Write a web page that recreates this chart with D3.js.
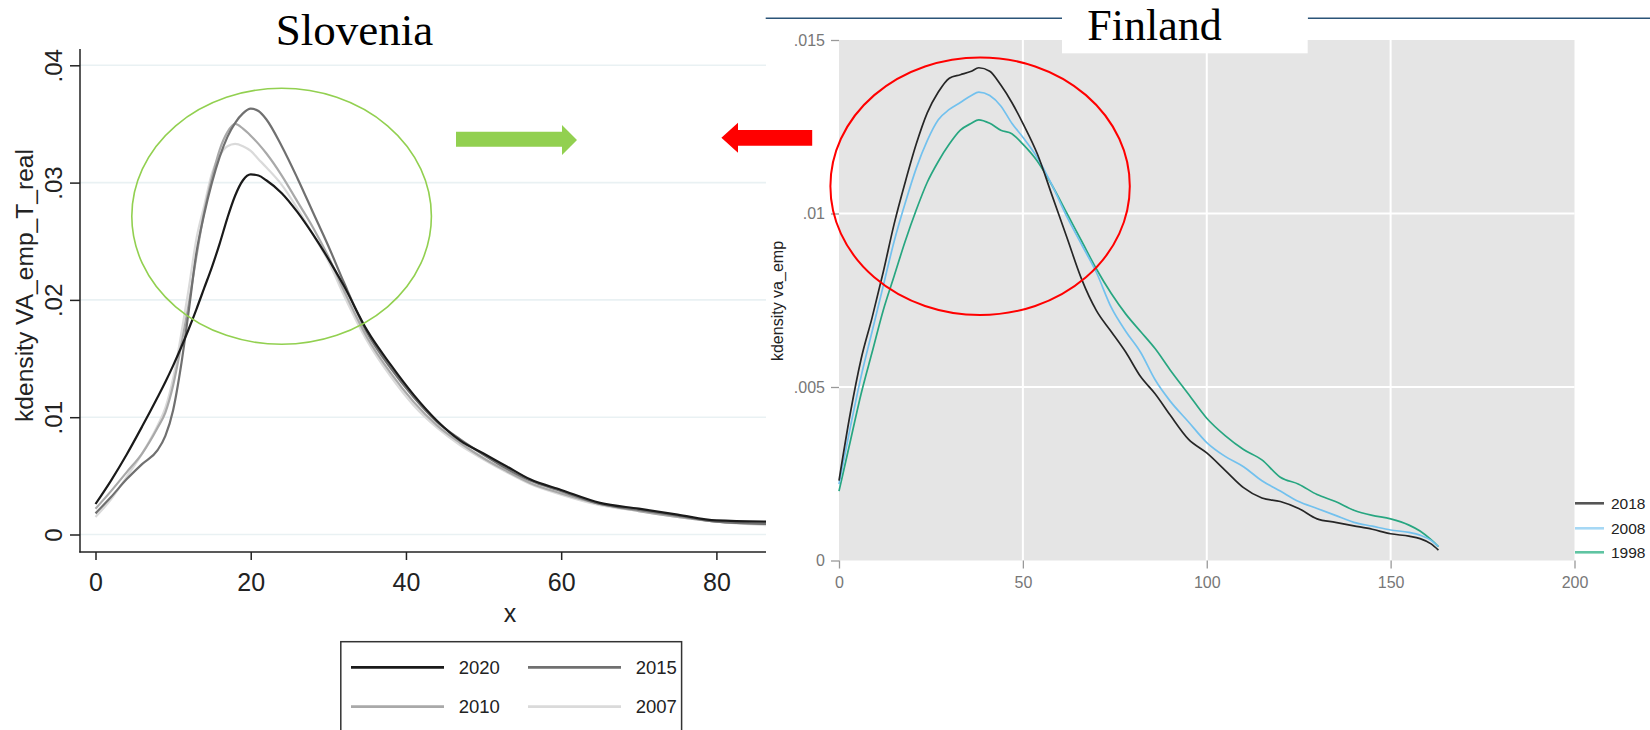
<!DOCTYPE html>
<html><head><meta charset="utf-8">
<script src="https://cdn.jsdelivr.net/npm/d3@7/dist/d3.min.js"></script>
<style>
html,body{margin:0;padding:0;background:#fff;}
svg{display:block;}
text{font-family:"Liberation Sans",Arial,sans-serif;}
</style></head>
<body>
<svg id="c" width="1650" height="730"></svg>
<script>
// ---------- Slovenia data ----------
const sloX = [0,2,4,6,8,9,10,11,12,13,14,15,16,17,18,19,20,21,22,24,26,28,30,32,35,38,41,44,47,50,53,56,60,65,70,75,80,86.5];
const slo2020 = [.0026,.0046,.0068,.0092,.0117,.0130,.0144,.0159,.0175,.0192,.0210,.0228,.0248,.0270,.0289,.0302,.0307,.0306,.0302,.0291,.0275,.0256,.0235,.0212,.0174,.0145,.0119,.0097,.0080,.0069,.0058,.0047,.0038,.0027,.0022,.0017,.0012,.0011];
const slo2015 = [.0018,.0032,.0047,.0060,.0072,.0084,.0106,.0143,.0190,.0240,.0273,.0300,.0322,.0339,.0351,.0359,.0363,.0361,.0354,.0331,.0304,.0275,.0246,.0215,.0172,.0142,.0117,.0096,.0081,.0068,.0056,.0046,.0037,.0026,.0021,.0016,.0011,.0009];
const slo2010 = [.0022,.0037,.0053,.0069,.0091,.0104,.0127,.0160,.0196,.0237,.0275,.0304,.0328,.0343,.0350,.0346,.0340,.0333,.0325,.0306,.0284,.0262,.0237,.0208,.0168,.0138,.0113,.0093,.0078,.0065,.0054,.0044,.0035,.0026,.0020,.0015,.0011,.0009];
const slo2007 = [.0015,.0030,.0049,.0069,.0093,.0108,.0133,.0169,.0209,.0252,.0280,.0308,.0323,.0331,.0333,.0331,.0327,.0320,.0313,.0298,.0278,.0256,.0233,.0204,.0165,.0135,.0110,.0091,.0076,.0064,.0053,.0043,.0034,.0025,.0020,.0015,.0011,.0008];
const sloYears = ["2020","2015","2010","2007"];
const sloYTicks = [0,.01,.02,.03,.04];
const sloYLabels = ["0",".01",".02",".03",".04"];
const sloXTicks = [0,20,40,60,80];

// ---------- Finland data ----------
const finX = [0,3,6,9,12,15,18,21,24,27,30,33,36,38,41,44,47,50,54,58,62,66,70,74,78,82,86,90,95,100,105,110,115,120,125,130,135,140,145,150,155,158,161,163];
const fin2018 = [.0023,.0042,.0058,.0070,.0083,.0097,.0109,.0120,.0129,.0135,.0139,.0140,.0141,.0142,.0141,.0137,.0132,.0126,.0117,.0105,.0093,.0081,.0072,.0066,.0060,.0053,.0048,.0042,.0035,.0031,.0026,.0021,.0018,.0017,.0015,.0012,.0011,.0010,.0009,.00077,.0007,.00063,.00048,.0003];
const fin2008 = [.0022,.0038,.0053,.0066,.0079,.0092,.0103,.0113,.0121,.0127,.0130,.0132,.0134,.0135,.0134,.0131,.0126,.0122,.0116,.0108,.0099,.0091,.0083,.0073,.0066,.0060,.0052,.0046,.0040,.0034,.0030,.0027,.0023,.0020,.0017,.0015,.0013,.0011,.00099,.00088,.00081,.00073,.00058,.0004];
const fin1998 = [.0020,.0034,.0048,.0060,.0072,.0082,.0092,.0101,.0109,.0115,.0120,.0124,.0126,.0127,.0126,.0124,.0123,.0120,.0115,.0108,.0100,.0092,.0084,.0077,.0071,.0066,.0061,.0055,.0048,.0041,.0036,.0032,.0029,.0024,.0022,.0019,.0017,.00145,.0013,.0012,.00102,.00085,.0006,.0004];
const finYears = ["2018","2008","1998"];
const finYTicks = [0,.005,.01,.015];
const finYLabels = ["0",".005",".01",".015"];
const finXTicks = [0,50,100,150,200];

const svg = d3.select("#c");

// ================= SLOVENIA =================
const sx = d3.scaleLinear().domain([0,80]).range([95.5,716.4]);
const sy = d3.scaleLinear().domain([0,.04]).range([534.5,65.3]);
const sloColors = ["#1a1a1a","#707070","#a9a9a9","#dadada"];
const sloSeries = [slo2020, slo2015, slo2010, slo2007];

svg.append("defs").append("clipPath").attr("id","sclip")
  .append("rect").attr("x",80).attr("y",0).attr("width",686).attr("height",552);

const gS = svg.append("g");
gS.selectAll("line.grid").data(sloYTicks).join("line")
  .attr("x1",80).attr("x2",766).attr("y1",d=>sy(d)).attr("y2",d=>sy(d))
  .attr("stroke","#e9f1f3").attr("stroke-width",1.6);

const yAxS = gS.append("g").attr("transform","translate(80,0)")
  .call(d3.axisLeft(sy).tickValues(sloYTicks).tickFormat((d,i)=>sloYLabels[i]).tickSize(10).tickSizeOuter(0));
yAxS.select(".domain").remove();
yAxS.selectAll(".tick line").attr("stroke","#222").attr("stroke-width",1.5);
yAxS.selectAll(".tick text").attr("transform","rotate(-90)").attr("x",0).attr("y",-18).attr("dy",null)
  .attr("text-anchor","middle").style("font-size","24px").attr("fill","#222");
gS.append("line").attr("x1",80).attr("x2",80).attr("y1",49).attr("y2",552.5).attr("stroke","#222").attr("stroke-width",1.5);

const xAxS = gS.append("g").attr("transform","translate(0,552)")
  .call(d3.axisBottom(sx).tickValues(sloXTicks).tickSize(8).tickSizeOuter(0));
xAxS.select(".domain").remove();
xAxS.selectAll(".tick line").attr("stroke","#222").attr("stroke-width",1.5);
xAxS.selectAll(".tick text").attr("y",38.7).attr("dy",null).style("font-size","25px").attr("fill","#222");
gS.append("line").attr("x1",79.3).attr("x2",766).attr("y1",552).attr("y2",552).attr("stroke","#222").attr("stroke-width",1.5);

gS.append("text").attr("transform","translate(32.5,285.5) rotate(-90)").attr("text-anchor","middle")
  .style("font-size","24.6px").attr("fill","#222").text("kdensity VA_emp_T_real");
gS.append("text").attr("x",510).attr("y",621.7).attr("text-anchor","middle")
  .style("font-size","25px").attr("fill","#222").text("x");

const sLine = d3.line().x((d,i)=>sx(sloX[i])).y(d=>sy(d)).curve(d3.curveMonotoneX);
const gSL = gS.append("g").attr("clip-path","url(#sclip)");
[3,2,1,0].forEach(k=>{
  gSL.append("path").attr("d",sLine(sloSeries[k])).attr("fill","none")
    .attr("stroke",sloColors[k]).attr("stroke-width",2.2).attr("stroke-linejoin","round");
});

svg.append("text").attr("x",354.5).attr("y",45).attr("text-anchor","middle")
  .style("font-family","'Liberation Serif','Times New Roman',serif").style("font-size","45px")
  .attr("fill","#000").text("Slovenia");

const lg = svg.append("g");
lg.append("rect").attr("x",340.8).attr("y",641.7).attr("width",340.8).attr("height",110)
  .attr("fill","#fff").attr("stroke","#333").attr("stroke-width",1.5);
const legPos = [[351,667.3],[528,667.3],[351,706.7],[528,706.7]];
sloYears.forEach((yr,i)=>{
  const [lx,ly] = legPos[i];
  lg.append("line").attr("x1",lx).attr("x2",lx+93).attr("y1",ly).attr("y2",ly)
    .attr("stroke",sloColors[i]).attr("stroke-width",2.8);
  lg.append("text").attr("x",lx+107.7).attr("y",ly+6.6)
    .style("font-family","'Liberation Sans Narrow','Arial Narrow',sans-serif").style("font-size","18.5px")
    .attr("fill","#222").text(yr);
});

svg.append("ellipse").attr("cx",281.6).attr("cy",216.3).attr("rx",149.8).attr("ry",128)
  .attr("fill","none").attr("stroke","#92d050").attr("stroke-width",1.6);
svg.append("path").attr("d","M456,131.7 L562,131.7 L562,125 L577,140 L562,155 L562,146.7 L456,146.7 Z")
  .attr("fill","#92d050");

// ================= FINLAND =================
const fx = d3.scaleLinear().domain([0,200]).range([839,1574.5]);
const fy = d3.scaleLinear().domain([0,.015]).range([560.5,40]);
const finColors = ["#262626","#72c1ee","#27a680"];
const finLegColors = ["#555555","#a6d8f5","#5fc4a2"];
const finSeries = [fin2018, fin2008, fin1998];

const gF = svg.append("g");
gF.append("rect").attr("x",fx(0)).attr("y",fy(.015)).attr("width",fx(200)-fx(0)).attr("height",fy(0)-fy(.015))
  .attr("fill","#e5e5e5");
gF.selectAll("line.vg").data([50,100,150]).join("line")
  .attr("x1",d=>fx(d)).attr("x2",d=>fx(d)).attr("y1",fy(.015)).attr("y2",fy(0))
  .attr("stroke","#fff").attr("stroke-width",2);
gF.selectAll("line.hg").data([.005,.01]).join("line")
  .attr("x1",fx(0)).attr("x2",fx(200)).attr("y1",d=>fy(d)).attr("y2",d=>fy(d))
  .attr("stroke","#fff").attr("stroke-width",2);

const yAxF = gF.append("g").attr("transform",`translate(${fx(0)},0)`)
  .call(d3.axisLeft(fy).tickValues(finYTicks).tickFormat((d,i)=>finYLabels[i]).tickSize(8).tickSizeOuter(0));
yAxF.select(".domain").remove();
yAxF.selectAll(".tick line").attr("stroke","#999").attr("stroke-width",1.3);
yAxF.selectAll(".tick text").attr("x",-14).style("font-size","16px").attr("fill","#777");

const xAxF = gF.append("g").attr("transform",`translate(0,${fy(0)})`)
  .call(d3.axisBottom(fx).tickValues(finXTicks).tickSize(8).tickSizeOuter(0));
xAxF.select(".domain").remove();
xAxF.selectAll(".tick line").attr("stroke","#999").attr("stroke-width",1.3);
xAxF.selectAll(".tick text").attr("y",27.5).attr("dy",null).style("font-size","16px").attr("fill","#777");

gF.append("text").attr("transform","translate(783,301) rotate(-90)").attr("text-anchor","middle")
  .style("font-size","16px").attr("fill","#222").text("kdensity va_emp");

const fLine = d3.line().x((d,i)=>fx(finX[i])).y(d=>fy(d)).curve(d3.curveMonotoneX);
[2,1,0].forEach(k=>{
  gF.append("path").attr("d",fLine(finSeries[k])).attr("fill","none")
    .attr("stroke",finColors[k]).attr("stroke-width",1.7).attr("stroke-linejoin","round");
});

const finLegY = [503.3,528.3,552.3];
finYears.forEach((yr,i)=>{
  gF.append("line").attr("x1",1575).attr("x2",1604).attr("y1",finLegY[i]).attr("y2",finLegY[i])
    .attr("stroke",finLegColors[i]).attr("stroke-width",2.6);
  gF.append("text").attr("x",1611).attr("y",finLegY[i]+6).style("font-size","15.5px")
    .attr("fill","#222").text(yr);
});

svg.append("line").attr("x1",765.7).attr("x2",1062).attr("y1",18.3).attr("y2",18.3)
  .attr("stroke","#2b5478").attr("stroke-width",1.5);
svg.append("line").attr("x1",1307.7).attr("x2",1650).attr("y1",18.3).attr("y2",18.3)
  .attr("stroke","#2b5478").attr("stroke-width",1.5);
svg.append("rect").attr("x",1062).attr("y",0).attr("width",245.7).attr("height",53.3).attr("fill","#fff");
svg.append("text").attr("x",1154.5).attr("y",39.5).attr("text-anchor","middle")
  .style("font-family","'Liberation Serif','Times New Roman',serif").style("font-size","44px")
  .attr("fill","#000").text("Finland");

svg.append("ellipse").attr("cx",980.1).attr("cy",186.2).attr("rx",149.7).attr("ry",128.8)
  .attr("fill","none").attr("stroke","#ff0000").attr("stroke-width",2);
svg.append("path").attr("d","M812.2,130 L738,130 L738,122.7 L721.4,137.8 L738,152.7 L738,145.7 L812.2,145.7 Z")
  .attr("fill","#ff0000");
</script>
</body></html>
